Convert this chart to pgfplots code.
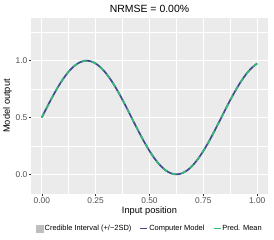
\documentclass[border=0pt]{standalone}
\usepackage{pgfplots}
\pgfplotsset{compat=1.18}
\usepackage{fontspec}
\setmainfont{Liberation Sans}
\definecolor{panelbg}{HTML}{EBEBEB}
\definecolor{cmblue}{HTML}{414A8E}
\definecolor{pmgreen}{HTML}{35B779}
\definecolor{cigray}{HTML}{BEBEBE}
\definecolor{ticktext}{HTML}{4D4D4D}
\begin{document}
\begin{tikzpicture}
\path[use as bounding box] (0,0) rectangle (274bp,240bp);
\begin{axis}[
  at={(31bp,46bp)}, anchor=south west,
  scale only axis, width=237bp, height=176bp,
  xmin=-0.05, xmax=1.05, ymin=-0.173, ymax=1.376,
  axis background/.style={fill=panelbg},
  axis line style={draw=none},
  xtick={0,0.25,0.5,0.75,1},
  xticklabels={0.00,0.25,0.50,0.75,1.00},
  ytick={0,0.5,1},
  yticklabels={0.0,0.5,1.0},
  minor xtick={0.125,0.375,0.625,0.875},
  minor ytick={0.25,0.75,1.25},
  grid=both,
  major grid style={white, line width=0.9bp},
  minor grid style={white, line width=0.45bp},
  tick pos=left, tick align=outside,
  major tick length=2bp, minor tick length=0pt,
  tick style={color=black!80, line width=0.5bp},
  ticklabel style={font=\fontsize{8.4}{10}\selectfont, text=ticktext},
  xticklabel style={inner sep=1.5bp},
  yticklabel style={inner sep=1.5bp},
  every axis title shift=0pt,
  title={NRMSE = 0.00\%},
  title style={at={(axis description cs:0.5,1)}, anchor=base, yshift=5bp, font=\fontsize{10.5}{12}\selectfont},
  xlabel={Input position},
  xlabel style={at={(axis description cs:0.5,0)}, anchor=base, yshift=-19.5bp, font=\fontsize{9.3}{11}\selectfont},
  ylabel={Model output},
  ylabel style={at={(axis description cs:-0.0992,0.5)}, anchor=center, font=\fontsize{9.3}{11}\selectfont},
  legend columns=-1,
  legend style={at={(0.5,0)}, anchor=center, yshift=-34.7bp, draw=none, fill=none,
    font=\fontsize{7.5}{9}\selectfont, inner sep=0pt,
    /tikz/every even column/.append style={column sep=7bp},
    nodes={inner sep=1.2bp}},
  legend cell align=left,
]
\addlegendimage{legend image code/.code={\fill[cigray] (0bp,-3.5bp) rectangle (7bp,3.5bp);}}
\addlegendentry{Credible Interval (+/\textminus 2SD)}
\addplot[cmblue, line width=1.7bp, smooth, forget plot] table[row sep=\\] {
x y\\
0.000 0.5000\\ 0.025 0.5937\\ 0.050 0.6841\\ 0.075 0.7679\\ 0.100 0.8423\\
0.125 0.9045\\ 0.150 0.9524\\ 0.175 0.9843\\ 0.200 0.9990\\ 0.225 0.9961\\
0.250 0.9755\\ 0.275 0.9382\\ 0.300 0.8853\\ 0.325 0.8187\\ 0.350 0.7409\\
0.375 0.6545\\ 0.400 0.5627\\ 0.425 0.4686\\ 0.450 0.3757\\ 0.475 0.2871\\
0.500 0.2061\\ 0.525 0.1355\\ 0.550 0.0779\\ 0.575 0.0351\\ 0.600 0.0089\\
0.625 0.0000\\ 0.650 0.0089\\ 0.675 0.0351\\ 0.700 0.0779\\ 0.725 0.1355\\
0.750 0.2061\\ 0.775 0.2871\\ 0.800 0.3757\\ 0.825 0.4686\\ 0.850 0.5627\\
0.875 0.6545\\ 0.900 0.7409\\ 0.925 0.8187\\ 0.950 0.8853\\ 0.975 0.9382\\
1.000 0.9755\\
};
\addlegendimage{legend image code/.code={\draw[cmblue, line width=1.5bp] (0bp,0bp) -- (7bp,0bp);}}
\addlegendentry{Computer Model}
\addplot[pmgreen, line width=1.7bp, dash pattern=on 5bp off 5bp, smooth, forget plot] table[row sep=\\] {
x y\\
0.000 0.5000\\ 0.025 0.5937\\ 0.050 0.6841\\ 0.075 0.7679\\ 0.100 0.8423\\
0.125 0.9045\\ 0.150 0.9524\\ 0.175 0.9843\\ 0.200 0.9990\\ 0.225 0.9961\\
0.250 0.9755\\ 0.275 0.9382\\ 0.300 0.8853\\ 0.325 0.8187\\ 0.350 0.7409\\
0.375 0.6545\\ 0.400 0.5627\\ 0.425 0.4686\\ 0.450 0.3757\\ 0.475 0.2871\\
0.500 0.2061\\ 0.525 0.1355\\ 0.550 0.0779\\ 0.575 0.0351\\ 0.600 0.0089\\
0.625 0.0000\\ 0.650 0.0089\\ 0.675 0.0351\\ 0.700 0.0779\\ 0.725 0.1355\\
0.750 0.2061\\ 0.775 0.2871\\ 0.800 0.3757\\ 0.825 0.4686\\ 0.850 0.5627\\
0.875 0.6545\\ 0.900 0.7409\\ 0.925 0.8187\\ 0.950 0.8853\\ 0.975 0.9382\\
1.000 0.9755\\
};
\addlegendimage{legend image code/.code={\draw[pmgreen, line width=1.5bp] (0bp,0bp) -- (7bp,0bp);}}
\addlegendentry{Pred. Mean}
\end{axis}
\end{tikzpicture}
\end{document}
